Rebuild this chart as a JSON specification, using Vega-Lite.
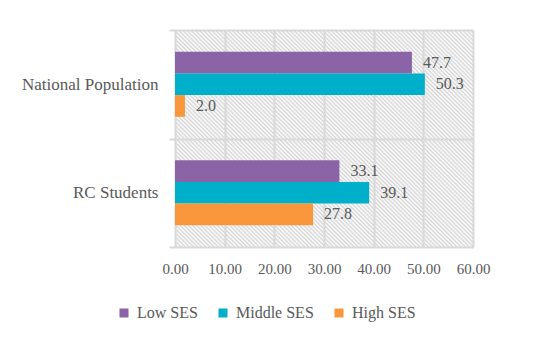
{
  "$schema": "https://vega.github.io/schema/vega-lite/v6.json",
  "width": 298,
  "height": 217,
  "autosize": {"type": "none"},
  "padding": {"left": 175, "top": 30, "right": 77, "bottom": 101},
  "background": "white",
  "config": {
    "font": "Liberation Serif",
    "legend": {"labelFont": "Liberation Serif"},
    "view": {
      "stroke": null,
      "fill": {
        "gradient": "linear",
        "x1": 0, "y1": 1, "x2": 1.129, "y2": 0.178,
        "stops": [
{"offset":0,"color":"#fff"},{"offset":0.004,"color":"#d4d4d4"},{"offset":0.008,"color":"#fff"},{"offset":0.012,"color":"#d4d4d4"},{"offset":0.016,"color":"#fff"},{"offset":0.02,"color":"#d4d4d4"},{"offset":0.024,"color":"#fff"},{"offset":0.028,"color":"#d4d4d4"},{"offset":0.032,"color":"#fff"},{"offset":0.036,"color":"#d4d4d4"},{"offset":0.04,"color":"#fff"},{"offset":0.044,"color":"#d4d4d4"},{"offset":0.048,"color":"#fff"},{"offset":0.052,"color":"#d4d4d4"},{"offset":0.056,"color":"#fff"},{"offset":0.06,"color":"#d4d4d4"},{"offset":0.064,"color":"#fff"},{"offset":0.068,"color":"#d4d4d4"},{"offset":0.072,"color":"#fff"},{"offset":0.076,"color":"#d4d4d4"},{"offset":0.08,"color":"#fff"},{"offset":0.084,"color":"#d4d4d4"},{"offset":0.088,"color":"#fff"},{"offset":0.092,"color":"#d4d4d4"},{"offset":0.096,"color":"#fff"},
{"offset":0.1,"color":"#d4d4d4"},{"offset":0.104,"color":"#fff"},{"offset":0.108,"color":"#d4d4d4"},{"offset":0.112,"color":"#fff"},{"offset":0.116,"color":"#d4d4d4"},{"offset":0.12,"color":"#fff"},{"offset":0.124,"color":"#d4d4d4"},{"offset":0.128,"color":"#fff"},{"offset":0.132,"color":"#d4d4d4"},{"offset":0.136,"color":"#fff"},{"offset":0.14,"color":"#d4d4d4"},{"offset":0.144,"color":"#fff"},{"offset":0.148,"color":"#d4d4d4"},{"offset":0.152,"color":"#fff"},{"offset":0.156,"color":"#d4d4d4"},{"offset":0.16,"color":"#fff"},{"offset":0.164,"color":"#d4d4d4"},{"offset":0.168,"color":"#fff"},{"offset":0.172,"color":"#d4d4d4"},{"offset":0.176,"color":"#fff"},{"offset":0.18,"color":"#d4d4d4"},{"offset":0.184,"color":"#fff"},{"offset":0.188,"color":"#d4d4d4"},{"offset":0.192,"color":"#fff"},{"offset":0.196,"color":"#d4d4d4"},
{"offset":0.2,"color":"#fff"},{"offset":0.204,"color":"#d4d4d4"},{"offset":0.208,"color":"#fff"},{"offset":0.212,"color":"#d4d4d4"},{"offset":0.216,"color":"#fff"},{"offset":0.22,"color":"#d4d4d4"},{"offset":0.224,"color":"#fff"},{"offset":0.228,"color":"#d4d4d4"},{"offset":0.232,"color":"#fff"},{"offset":0.236,"color":"#d4d4d4"},{"offset":0.24,"color":"#fff"},{"offset":0.244,"color":"#d4d4d4"},{"offset":0.248,"color":"#fff"},{"offset":0.252,"color":"#d4d4d4"},{"offset":0.256,"color":"#fff"},{"offset":0.26,"color":"#d4d4d4"},{"offset":0.264,"color":"#fff"},{"offset":0.268,"color":"#d4d4d4"},{"offset":0.272,"color":"#fff"},{"offset":0.276,"color":"#d4d4d4"},{"offset":0.28,"color":"#fff"},{"offset":0.284,"color":"#d4d4d4"},{"offset":0.288,"color":"#fff"},{"offset":0.292,"color":"#d4d4d4"},{"offset":0.296,"color":"#fff"},
{"offset":0.3,"color":"#d4d4d4"},{"offset":0.304,"color":"#fff"},{"offset":0.308,"color":"#d4d4d4"},{"offset":0.312,"color":"#fff"},{"offset":0.316,"color":"#d4d4d4"},{"offset":0.32,"color":"#fff"},{"offset":0.324,"color":"#d4d4d4"},{"offset":0.328,"color":"#fff"},{"offset":0.332,"color":"#d4d4d4"},{"offset":0.336,"color":"#fff"},{"offset":0.34,"color":"#d4d4d4"},{"offset":0.344,"color":"#fff"},{"offset":0.348,"color":"#d4d4d4"},{"offset":0.352,"color":"#fff"},{"offset":0.356,"color":"#d4d4d4"},{"offset":0.36,"color":"#fff"},{"offset":0.364,"color":"#d4d4d4"},{"offset":0.368,"color":"#fff"},{"offset":0.372,"color":"#d4d4d4"},{"offset":0.376,"color":"#fff"},{"offset":0.38,"color":"#d4d4d4"},{"offset":0.384,"color":"#fff"},{"offset":0.388,"color":"#d4d4d4"},{"offset":0.392,"color":"#fff"},{"offset":0.396,"color":"#d4d4d4"},
{"offset":0.4,"color":"#fff"},{"offset":0.404,"color":"#d4d4d4"},{"offset":0.408,"color":"#fff"},{"offset":0.412,"color":"#d4d4d4"},{"offset":0.416,"color":"#fff"},{"offset":0.42,"color":"#d4d4d4"},{"offset":0.424,"color":"#fff"},{"offset":0.428,"color":"#d4d4d4"},{"offset":0.432,"color":"#fff"},{"offset":0.436,"color":"#d4d4d4"},{"offset":0.44,"color":"#fff"},{"offset":0.444,"color":"#d4d4d4"},{"offset":0.448,"color":"#fff"},{"offset":0.452,"color":"#d4d4d4"},{"offset":0.456,"color":"#fff"},{"offset":0.46,"color":"#d4d4d4"},{"offset":0.464,"color":"#fff"},{"offset":0.468,"color":"#d4d4d4"},{"offset":0.472,"color":"#fff"},{"offset":0.476,"color":"#d4d4d4"},{"offset":0.48,"color":"#fff"},{"offset":0.484,"color":"#d4d4d4"},{"offset":0.488,"color":"#fff"},{"offset":0.492,"color":"#d4d4d4"},{"offset":0.496,"color":"#fff"},
{"offset":0.5,"color":"#d4d4d4"},{"offset":0.504,"color":"#fff"},{"offset":0.508,"color":"#d4d4d4"},{"offset":0.512,"color":"#fff"},{"offset":0.516,"color":"#d4d4d4"},{"offset":0.52,"color":"#fff"},{"offset":0.524,"color":"#d4d4d4"},{"offset":0.528,"color":"#fff"},{"offset":0.532,"color":"#d4d4d4"},{"offset":0.536,"color":"#fff"},{"offset":0.54,"color":"#d4d4d4"},{"offset":0.544,"color":"#fff"},{"offset":0.548,"color":"#d4d4d4"},{"offset":0.552,"color":"#fff"},{"offset":0.556,"color":"#d4d4d4"},{"offset":0.56,"color":"#fff"},{"offset":0.564,"color":"#d4d4d4"},{"offset":0.568,"color":"#fff"},{"offset":0.572,"color":"#d4d4d4"},{"offset":0.576,"color":"#fff"},{"offset":0.58,"color":"#d4d4d4"},{"offset":0.584,"color":"#fff"},{"offset":0.588,"color":"#d4d4d4"},{"offset":0.592,"color":"#fff"},{"offset":0.596,"color":"#d4d4d4"},
{"offset":0.6,"color":"#fff"},{"offset":0.604,"color":"#d4d4d4"},{"offset":0.608,"color":"#fff"},{"offset":0.612,"color":"#d4d4d4"},{"offset":0.616,"color":"#fff"},{"offset":0.62,"color":"#d4d4d4"},{"offset":0.624,"color":"#fff"},{"offset":0.628,"color":"#d4d4d4"},{"offset":0.632,"color":"#fff"},{"offset":0.636,"color":"#d4d4d4"},{"offset":0.64,"color":"#fff"},{"offset":0.644,"color":"#d4d4d4"},{"offset":0.648,"color":"#fff"},{"offset":0.652,"color":"#d4d4d4"},{"offset":0.656,"color":"#fff"},{"offset":0.66,"color":"#d4d4d4"},{"offset":0.664,"color":"#fff"},{"offset":0.668,"color":"#d4d4d4"},{"offset":0.672,"color":"#fff"},{"offset":0.676,"color":"#d4d4d4"},{"offset":0.68,"color":"#fff"},{"offset":0.684,"color":"#d4d4d4"},{"offset":0.688,"color":"#fff"},{"offset":0.692,"color":"#d4d4d4"},{"offset":0.696,"color":"#fff"},
{"offset":0.7,"color":"#d4d4d4"},{"offset":0.704,"color":"#fff"},{"offset":0.708,"color":"#d4d4d4"},{"offset":0.712,"color":"#fff"},{"offset":0.716,"color":"#d4d4d4"},{"offset":0.72,"color":"#fff"},{"offset":0.724,"color":"#d4d4d4"},{"offset":0.728,"color":"#fff"},{"offset":0.732,"color":"#d4d4d4"},{"offset":0.736,"color":"#fff"},{"offset":0.74,"color":"#d4d4d4"},{"offset":0.744,"color":"#fff"},{"offset":0.748,"color":"#d4d4d4"},{"offset":0.752,"color":"#fff"},{"offset":0.756,"color":"#d4d4d4"},{"offset":0.76,"color":"#fff"},{"offset":0.764,"color":"#d4d4d4"},{"offset":0.768,"color":"#fff"},{"offset":0.772,"color":"#d4d4d4"},{"offset":0.776,"color":"#fff"},{"offset":0.78,"color":"#d4d4d4"},{"offset":0.784,"color":"#fff"},{"offset":0.788,"color":"#d4d4d4"},{"offset":0.792,"color":"#fff"},{"offset":0.796,"color":"#d4d4d4"},
{"offset":0.8,"color":"#fff"},{"offset":0.804,"color":"#d4d4d4"},{"offset":0.808,"color":"#fff"},{"offset":0.812,"color":"#d4d4d4"},{"offset":0.816,"color":"#fff"},{"offset":0.82,"color":"#d4d4d4"},{"offset":0.824,"color":"#fff"},{"offset":0.828,"color":"#d4d4d4"},{"offset":0.832,"color":"#fff"},{"offset":0.836,"color":"#d4d4d4"},{"offset":0.84,"color":"#fff"},{"offset":0.844,"color":"#d4d4d4"},{"offset":0.848,"color":"#fff"},{"offset":0.852,"color":"#d4d4d4"},{"offset":0.856,"color":"#fff"},{"offset":0.86,"color":"#d4d4d4"},{"offset":0.864,"color":"#fff"},{"offset":0.868,"color":"#d4d4d4"},{"offset":0.872,"color":"#fff"},{"offset":0.876,"color":"#d4d4d4"},{"offset":0.88,"color":"#fff"},{"offset":0.884,"color":"#d4d4d4"},{"offset":0.888,"color":"#fff"},{"offset":0.892,"color":"#d4d4d4"},{"offset":0.896,"color":"#fff"},
{"offset":0.9,"color":"#d4d4d4"},{"offset":0.904,"color":"#fff"},{"offset":0.908,"color":"#d4d4d4"},{"offset":0.912,"color":"#fff"},{"offset":0.916,"color":"#d4d4d4"},{"offset":0.92,"color":"#fff"},{"offset":0.924,"color":"#d4d4d4"},{"offset":0.928,"color":"#fff"},{"offset":0.932,"color":"#d4d4d4"},{"offset":0.936,"color":"#fff"},{"offset":0.94,"color":"#d4d4d4"},{"offset":0.944,"color":"#fff"},{"offset":0.948,"color":"#d4d4d4"},{"offset":0.952,"color":"#fff"},{"offset":0.956,"color":"#d4d4d4"},{"offset":0.96,"color":"#fff"},{"offset":0.964,"color":"#d4d4d4"},{"offset":0.968,"color":"#fff"},{"offset":0.972,"color":"#d4d4d4"},{"offset":0.976,"color":"#fff"},{"offset":0.98,"color":"#d4d4d4"},{"offset":0.984,"color":"#fff"},{"offset":0.988,"color":"#d4d4d4"},{"offset":0.992,"color":"#fff"},{"offset":0.996,"color":"#d4d4d4"},
{"offset":1,"color":"#fff"}
        ]
      }
    }
  },
  "data": {
    "values": [
      {"group": "National Population", "ses": "Low SES", "value": 47.7},
      {"group": "National Population", "ses": "Middle SES", "value": 50.3},
      {"group": "National Population", "ses": "High SES", "value": 2.0},
      {"group": "RC Students", "ses": "Low SES", "value": 33.1},
      {"group": "RC Students", "ses": "Middle SES", "value": 39.1},
      {"group": "RC Students", "ses": "High SES", "value": 27.8}
    ]
  },
  "encoding": {
    "y": {
      "field": "group", "type": "nominal",
      "sort": ["National Population", "RC Students"],
      "scale": {"paddingInner": 0, "paddingOuter": 0},
      "axis": {
        "title": null, "tickBand": "extent", "grid": true,
        "gridColor": "#d9d9d9", "gridWidth": 2,
        "tickColor": "#d9d9d9", "tickWidth": 2, "tickSize": 6,
        "domain": false, "labelPadding": 11, "labelFontSize": 17,
        "labelColor": "#595959", "labelFont": "Liberation Serif"
      }
    },
    "yOffset": {
      "field": "ses", "type": "nominal",
      "sort": ["Low SES", "Middle SES", "High SES"],
      "scale": {"paddingInner": 0, "paddingOuter": 1.2125}
    },
    "x": {
      "field": "value", "type": "quantitative",
      "scale": {"domain": [0, 60], "nice": false},
      "axis": {
        "title": null, "values": [0, 10, 20, 30, 40, 50, 60], "format": ".2f",
        "grid": true, "gridColor": "#d9d9d9", "gridWidth": 2,
        "ticks": false, "domain": false, "labelPadding": 14,
        "labelOverlap": false, "labelBound": false, "labelFlush": false,
        "labelFontSize": 15, "labelColor": "#595959", "labelFont": "Liberation Serif"
      }
    }
  },
  "layer": [
    {
      "mark": {"type": "bar"},
      "encoding": {
        "color": {
          "field": "ses", "type": "nominal",
          "scale": {"domain": ["Low SES", "Middle SES", "High SES"], "range": ["#8A64A7", "#00AFC9", "#FA973C"]},
          "legend": {
            "title": null, "orient": "none", "legendX": -59, "legendY": 275,
            "direction": "horizontal", "symbolType": "square", "symbolSize": 81,
            "symbolStrokeWidth": 0, "labelFontSize": 16, "labelColor": "#595959",
            "labelFont": "Liberation Serif", "labelOffset": 5, "columnPadding": 17,
            "encode": {"labels": {"update": {"font": {"value": "Liberation Serif"}, "fontSize": {"value": 16}}}}
          }
        }
      }
    },
    {
      "mark": {"type": "text", "align": "left", "dx": 11, "fontSize": 16, "color": "#595959", "font": "Liberation Serif"},
      "encoding": {
        "text": {"field": "value", "type": "quantitative", "format": ".1f"}
      }
    }
  ]
}
